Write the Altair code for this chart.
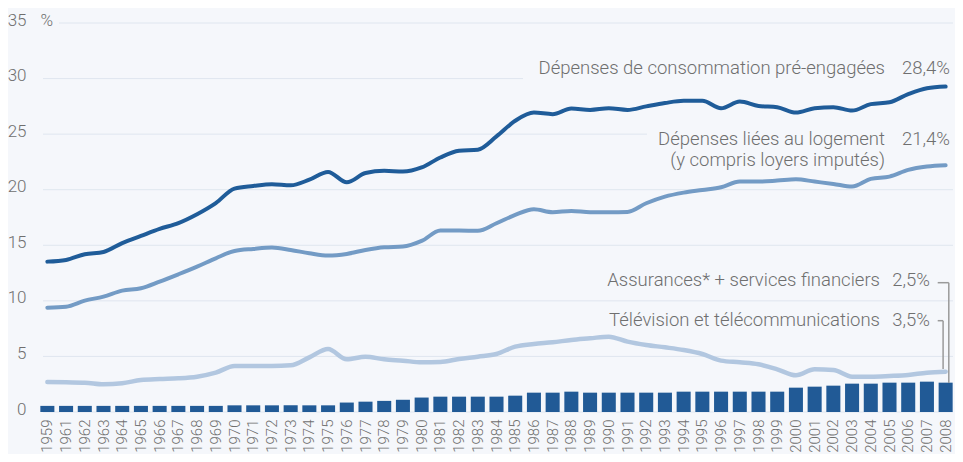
import altair as alt
import pandas as pd

years = ["1959"] + [str(y) for y in range(1961, 2009)]

pre_engagees = [13.53, 13.68, 14.2, 14.4, 15.2, 15.84, 16.47, 17.0, 17.8, 18.8,
                20.1, 20.34, 20.5, 20.4, 20.9, 21.6, 20.67, 21.5, 21.7, 21.63,
                22.0, 22.9, 23.5, 23.6, 24.8, 26.2, 26.94, 26.8, 27.3, 27.18,
                27.33, 27.18, 27.5, 27.8, 28.0, 28.0, 27.33, 27.93, 27.54, 27.42,
                26.94, 27.33, 27.42, 27.12, 27.7, 27.87, 28.6, 29.13, 29.28]

logement = [9.39, 9.48, 10.02, 10.38, 10.92, 11.13, 11.73, 12.39, 13.08, 13.83,
            14.49, 14.67, 14.79, 14.58, 14.28, 14.07, 14.22, 14.58, 14.82, 14.88,
            15.39, 16.32, 16.32, 16.3, 16.98, 17.73, 18.24, 17.97, 18.09, 17.97,
            17.97, 18.0, 18.78, 19.38, 19.74, 19.98, 20.22, 20.73, 20.73, 20.82,
            20.94, 20.73, 20.52, 20.28, 20.97, 21.18, 21.78, 22.08, 22.2]

television = [2.7, 2.67, 2.64, 2.49, 2.58, 2.88, 2.97, 3.03, 3.18, 3.54,
              4.14, 4.14, 4.14, 4.2, 4.92, 5.67, 4.74, 4.98, 4.74, 4.62,
              4.47, 4.5, 4.77, 4.98, 5.22, 5.88, 6.12, 6.27, 6.48, 6.63,
              6.78, 6.33, 6.03, 5.82, 5.58, 5.22, 4.62, 4.47, 4.29, 3.84,
              3.3, 3.84, 3.78, 3.18, 3.18, 3.24, 3.33, 3.54, 3.63]

assurances = [0.55, 0.55, 0.55, 0.55, 0.55, 0.55, 0.55, 0.55, 0.55, 0.55,
              0.6, 0.6, 0.6, 0.6, 0.6, 0.6, 0.85, 0.93, 1.0, 1.1,
              1.3, 1.38, 1.38, 1.38, 1.38, 1.47, 1.74, 1.74, 1.83, 1.74,
              1.74, 1.74, 1.74, 1.74, 1.83, 1.83, 1.83, 1.83, 1.83, 1.83,
              2.19, 2.28, 2.37, 2.55, 2.55, 2.64, 2.64, 2.73, 2.64]

y_ticks = [0, 5, 10, 15, 20, 25, 30, 35]

BG = "#f5f7fb"
GRID = "#dfe6ef"
TXT = "#6f6f6f"
DARK = "#1f5c99"
MID = "#739bc5"
LIGHT = "#b2c7e0"
BAR = "#215a96"
FONT = "Roboto"

df = pd.DataFrame({
    "annee": years,
    "pre": pre_engagees,
    "log": logement,
    "tv": television,
    "ass": assurances,
})
grid_df = pd.DataFrame({"v": y_ticks})

W, H = 917, 389

xs = alt.X("annee:O", sort=years,
           scale=alt.Scale(paddingInner=0.25, paddingOuter=0.125),
           axis=alt.Axis(title=None, labelAngle=-90, labelFontSize=15, labelColor=TXT,
                         labelFont=FONT, labelFontWeight=300, ticks=False, domain=False,
                         labelPadding=7, grid=False))
yscale = alt.Scale(domain=[0, 35], nice=False, zero=True)
yaxis = alt.Axis(values=y_ticks, labelFontSize=17, labelColor=TXT, labelFont=FONT,
                 labelFontWeight=300, ticks=False, domain=False, grid=False,
                 labelPadding=12, labelBaseline="alphabetic", labelOffset=2, title=None)


def yenc(field):
    return alt.Y(field, scale=yscale, axis=yaxis, title=None)


one = alt.Data(values=[{}])

grid = alt.Chart(grid_df).mark_rule(color=GRID, strokeWidth=1).encode(
    x=alt.value(5), x2=alt.value(915), y=yenc("v:Q"))


def box(x1, x2, y1, y2):
    return alt.Chart(one).mark_rect(color=BG).encode(
        x=alt.value(x1), x2=alt.value(x2), y=alt.value(y1), y2=alt.value(y2))


boxes = [box(-5, 21, -12, 8), box(485, 917, 30, 62), box(609, 917, 98, 150)]

bars = alt.Chart(df).mark_bar(color=BAR).encode(x=xs, y=yenc("ass:Q"))


def line(field, color, sw):
    return alt.Chart(df).mark_line(color=color, strokeWidth=sw, interpolate="monotone",
                                   strokeCap="round", strokeJoin="round").encode(
        x=xs, y=yenc(field + ":Q"))


lines = [line("tv", LIGHT, 4.5), line("log", MID, 4), line("pre", DARK, 4)]


def txt(s, x, y, size=18.5):
    return alt.Chart(one).mark_text(align="right", baseline="middle", fontSize=size,
                                    font=FONT, fontWeight=300, color=TXT, text=s).encode(
        x=alt.value(x), y=alt.value(y))


texts = [
    txt("%", 15, -2, 17),
    txt("Dépenses de consommation pré-engagées", 847, 45),
    txt("28,4%", 912, 45),
    txt("Dépenses liées au logement", 847, 116),
    txt("21,4%", 912, 116),
    txt("(y compris loyers imputés)", 847, 137),
    txt("Assurances* + services financiers", 842, 257),
    txt("2,5%", 892, 257),
    txt("Télévision et télécommunications", 842, 297),
    txt("3,5%", 892, 297),
]


def seg(x1, x2, y1, y2):
    return alt.Chart(one).mark_rule(color="#9a9a9a", strokeWidth=1.5).encode(
        x=alt.value(x1), x2=alt.value(x2), y=alt.value(y1), y2=alt.value(y2))


connectors = [
    seg(899.7, 910.8, 259.7, 259.7), seg(910.8, 910.8, 259.7, 360),
    seg(899.7, 905.1, 297.7, 297.7), seg(905.1, 905.1, 297.7, 346),
]

chart = alt.layer(grid, *boxes, bars, *lines, *connectors, *texts).properties(
    width=W, height=H,
    autosize=alt.AutoSizeParams(type="none"),
    padding={"left": 30, "top": 15, "right": 0, "bottom": 42},
).configure(background=BG).configure_view(stroke=None)

chart.save("out.html", embed_options={"renderer": "svg", "actions": False})
